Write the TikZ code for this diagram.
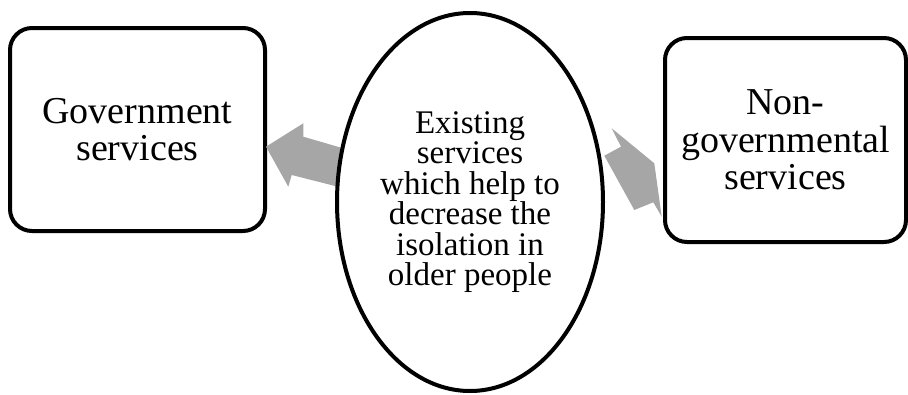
\documentclass[tikz,border=0pt]{standalone}
\usepackage{fontspec}
\setmainfont{Liberation Serif}
\usetikzlibrary{shapes.geometric}
\definecolor{arrowgrey}{HTML}{A6A6A6}
\begin{document}
\begin{tikzpicture}[x=1pt,y=-1pt,
  box/.style={draw, line width=4pt, rounded corners=22pt, fill=white,
    inner sep=0pt, align=center, font=\fontsize{38}{37.5}\selectfont},
  hub/.style={draw, ellipse, line width=4pt, fill=white, inner sep=0pt,
    align=center, minimum width=266pt, minimum height=378pt,
    font=\fontsize{33}{30.5}\selectfont},
  blockarrow/.style={fill=arrowgrey, draw=none}]
\useasboundingbox (0,0) rectangle (908,394);

% outer boxes
\node[box, minimum width=255pt, minimum height=203pt] (gov) at (137.5,129.5)
  {Government\\services};
\node[box, minimum width=241pt, minimum height=204pt] (ngo) at (785.5,140)
  {Non-\\governmental\\services};

% block arrows pointing from the hub to each box
\fill[blockarrow] (266,146.7) -- (303.3,123.3) -- (303.3,136.7) -- (349,150)
  -- (345,188.5) -- (291.7,175) -- (288.3,186.7) -- cycle;
\fill[blockarrow] (611.7,128.3) -- (654.3,163.3) -- (661.7,216.7)
  -- (653.3,202.3) -- (634.3,210) -- (604.3,155.7) -- (621,146.7) -- cycle;

% central ellipse
\node[hub] (hub) at (470,202)
  {Existing\\services\\which help to\\decrease the\\isolation in\\older people};
\end{tikzpicture}
\end{document}
